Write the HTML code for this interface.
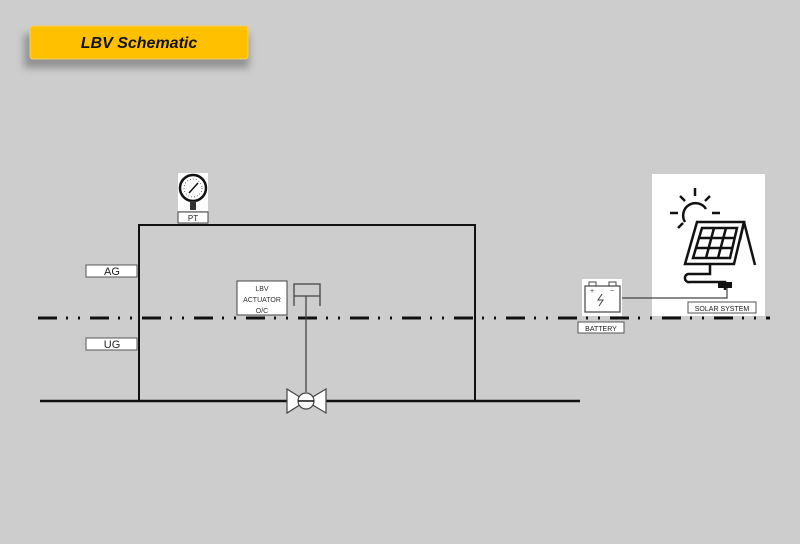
<!DOCTYPE html>
<html><head><style>
body{margin:0;width:800px;height:544px;background:#cdcdcd;overflow:hidden;font-family:"Liberation Sans",sans-serif}
</style></head><body>
<svg width="800" height="544" xmlns="http://www.w3.org/2000/svg" style="position:absolute;left:0;top:0">
<defs><filter id="sh" x="-20%" y="-50%" width="140%" height="250%"><feGaussianBlur stdDeviation="4"/></filter></defs>
<rect width="800" height="544" fill="#cdcdcd"/>
<rect x="24" y="34" width="225" height="34" fill="#777" filter="url(#sh)" opacity="0.7"/>
<rect x="30" y="26" width="218" height="33" rx="3" fill="#ffc000" stroke="#f5d060" stroke-width="1"/>
<text x="139" y="48" text-anchor="middle" font-size="16" font-weight="bold" font-style="italic" fill="#111">LBV Schematic</text>
<line x1="38" y1="318" x2="770" y2="318" stroke="#111" stroke-width="3" stroke-dasharray="19 9 2 10 2 10"/>
<path d="M139 401 V225 H475 V401" fill="none" stroke="#111" stroke-width="2"/>
<line x1="40" y1="401" x2="580" y2="401" stroke="#111" stroke-width="2.5"/>
<rect x="86" y="265" width="51" height="12" fill="#fff" stroke="#555"/>
<text x="112" y="275" text-anchor="middle" font-size="11" fill="#222">AG</text>
<rect x="86" y="338" width="51" height="12" fill="#fff" stroke="#555"/>
<text x="112" y="348" text-anchor="middle" font-size="11" fill="#222">UG</text>
<rect x="178" y="173" width="30" height="38" fill="#fff"/>
<circle cx="193" cy="188" r="13" fill="#fff" stroke="#111" stroke-width="2.5"/>
<circle cx="193" cy="188" r="9" fill="none" stroke="#333" stroke-width="0.7" stroke-dasharray="1 2"/>
<line x1="189" y1="193" x2="198" y2="183" stroke="#111" stroke-width="1.5"/>
<rect x="190" y="201" width="6" height="9" fill="#333"/>
<rect x="178" y="212" width="30" height="11" fill="#fff" stroke="#444"/>
<text x="193" y="221" text-anchor="middle" font-size="8" fill="#222">PT</text>
<rect x="237" y="281" width="50" height="34" fill="#fff" stroke="#444"/>
<text x="262" y="291" text-anchor="middle" font-size="7" fill="#333">LBV</text>
<text x="262" y="302" text-anchor="middle" font-size="7" fill="#333">ACTUATOR</text>
<text x="262" y="313" text-anchor="middle" font-size="7" fill="#333">O/C</text>
<path d="M294 306 V284 H320 V306 M294 296 H320" fill="none" stroke="#444" stroke-width="1.3"/>
<line x1="306" y1="296" x2="306" y2="392" stroke="#444" stroke-width="1.3"/>
<path d="M287 389 L306 401 L287 413 Z M326 389 L306 401 L326 413 Z" fill="#fff" stroke="#444" stroke-width="1.2"/>
<circle cx="306" cy="401" r="8" fill="#fff" stroke="#444" stroke-width="1.2"/>
<line x1="298" y1="401" x2="314" y2="401" stroke="#111" stroke-width="1.5"/>
<rect x="652" y="174" width="113" height="142" fill="#fff"/>
<g stroke="#111" stroke-width="2.5" fill="none">
<line x1="695" y1="188" x2="695" y2="196"/>
<line x1="680" y1="196" x2="685" y2="201"/>
<line x1="710" y1="196" x2="705" y2="201"/>
<line x1="670" y1="213" x2="678" y2="213"/>
<line x1="712" y1="213" x2="720" y2="213"/>
<line x1="678" y1="228" x2="683" y2="223"/>
<path d="M685 222 A11 11 0 1 1 706 209"/>
<path d="M697 222 L744 222 L734 264 L685 264 Z"/>
<path d="M744 222 L755 265 M744 222 L740 240"/>
<path d="M710 264 V274 H688 A4 4 0 0 0 690 282 H725 V290"/>
</g>
<g stroke="#111" stroke-width="2.5" fill="none">
<path d="M702 228 L737 228 L730 258 L693 258 Z"/>
<line x1="714" y1="228" x2="706" y2="258"/><line x1="726" y1="228" x2="718" y2="258"/>
<line x1="699" y1="238" x2="735" y2="238"/><line x1="697" y1="248" x2="733" y2="248"/>
</g>
<rect x="718" y="282" width="14" height="6" fill="#111"/>
<rect x="688" y="302" width="68" height="11" fill="#fff" stroke="#555"/>
<text x="722" y="311" text-anchor="middle" font-size="7" fill="#222">SOLAR SYSTEM</text>
<rect x="582" y="279" width="40" height="37" fill="#fff"/>
<rect x="585" y="286" width="35" height="26" fill="none" stroke="#444" stroke-width="1.2"/>
<rect x="589" y="282" width="7" height="4" fill="none" stroke="#444"/>
<rect x="609" y="282" width="7" height="4" fill="none" stroke="#444"/>
<text x="590" y="293" font-size="7" fill="#333">+</text>
<text x="610" y="293" font-size="7" fill="#333">−</text>
<path d="M602 294 L598 300 L603 300 L599 306" fill="none" stroke="#444"/>
<path d="M622 298 H727 V288" fill="none" stroke="#444" stroke-width="1.2"/>
<rect x="578" y="322" width="46" height="11" fill="#fff" stroke="#555"/>
<text x="601" y="331" text-anchor="middle" font-size="7" fill="#222">BATTERY</text>
</svg>
</body></html>
